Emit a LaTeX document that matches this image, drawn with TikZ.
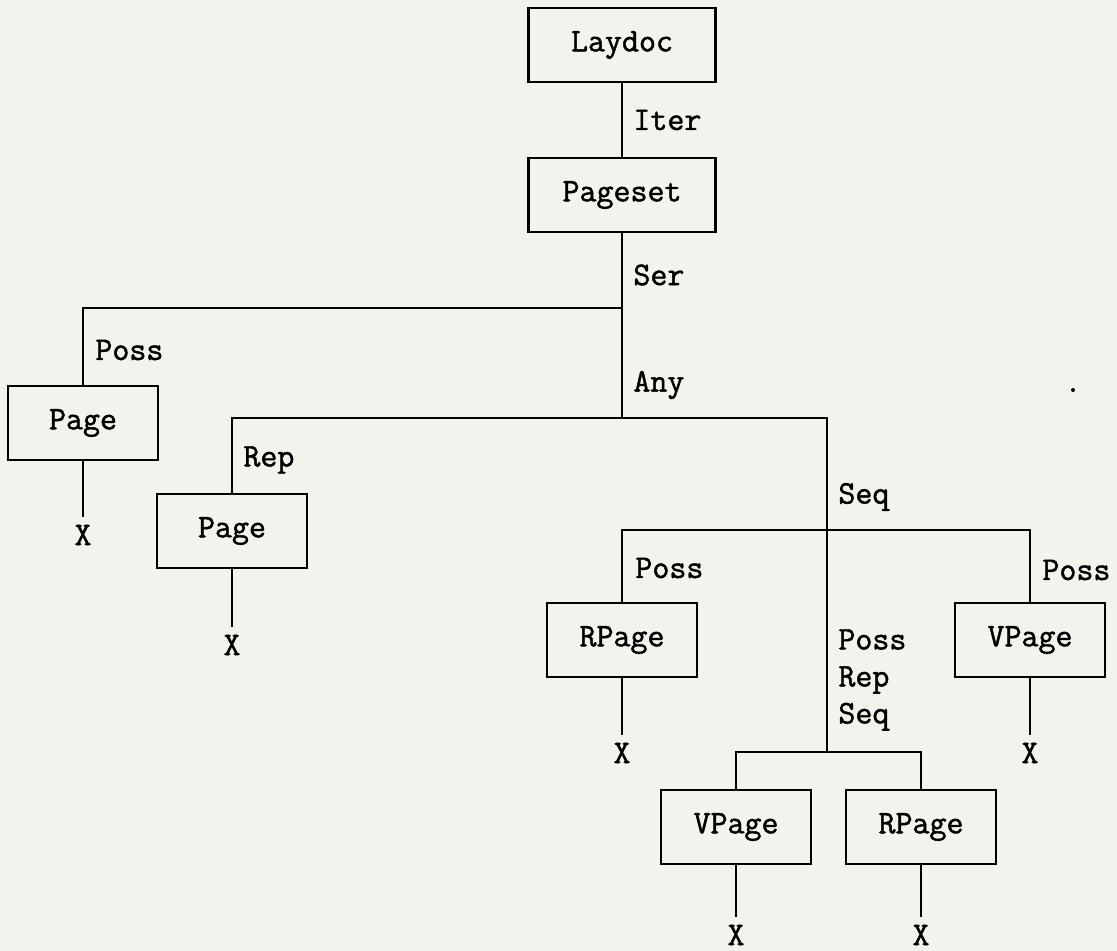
\documentclass[tikz,border=0pt]{standalone}
\usepackage{fontspec}
\newfontfamily\tw{Latin Modern Mono}[FakeBold=1.4]
\definecolor{paper}{RGB}{243,242,237}
\begin{document}
\begin{tikzpicture}[x=0.5pt,y=-0.5pt,
  txt/.style={font=\tw\fontsize{16.5}{18.5}\selectfont},
  box/.style={txt, draw, line width=1.4pt, minimum width=75pt, minimum height=37pt, inner sep=0pt},
  widebox/.style={box, minimum width=93.5pt},
  lab/.style={txt, anchor=west, inner sep=0pt},
  leaf/.style={txt, inner sep=4pt},
  conn/.style={line width=1.3pt}]
\fill[paper] (0,0) rectangle (1117,951);
\useasboundingbox (0,0) rectangle (1117,951);

% nodes
\node[widebox] (laydoc) at (622,45) {Laydoc};
\node[widebox] (pageset) at (622,195) {Pageset};
\node[box] (page1) at (83,423) {Page};
\node[box] (page2) at (232,531) {Page};
\node[box] (rpage1) at (622,640) {RPage};
\node[box] (vpage1) at (1030,640) {VPage};
\node[box] (vpage2) at (736,827) {VPage};
\node[box] (rpage2) at (921,827) {RPage};

\node[leaf] (x1) at (83,535) {X};
\node[leaf] (x2) at (232,645) {X};
\node[leaf] (x3) at (622,753) {X};
\node[leaf] (x4) at (1030,753) {X};
\node[leaf] (x5) at (736,935) {X};
\node[leaf] (x6) at (921,935) {X};

% junction coordinates
\coordinate (serj) at (622,308);
\coordinate (anyj) at (622,418);
\coordinate (seqj) at (827,530);
\coordinate (prsj) at (827,752);

% connectors
\draw[conn] (laydoc.south) -- (pageset.north);
\draw[conn] (pageset.south) -- (serj) -- (anyj);
\draw[conn] (serj) -| (page1.north);
\draw[conn] (anyj) -| (page2.north);
\draw[conn] (anyj) -| (seqj);
\draw[conn] (seqj) -| (rpage1.north);
\draw[conn] (seqj) -| (vpage1.north);
\draw[conn] (seqj) -- (prsj);
\draw[conn] (prsj) -| (vpage2.north);
\draw[conn] (prsj) -| (rpage2.north);
\draw[conn] (page1.south) -- (x1.north);
\draw[conn] (page2.south) -- (x2.north);
\draw[conn] (rpage1.south) -- (x3.north);
\draw[conn] (vpage1.south) -- (x4.north);
\draw[conn] (vpage2.south) -- (x5.north);
\draw[conn] (rpage2.south) -- (x6.north);

% labels
\node[lab] (liter) at (633,120) {Iter};
\node[lab] (lser) at (633,275) {Ser};
\node[lab] (lposs1) at (95,350) {Poss};
\node[lab] (lany) at (633,385) {Any};
\node[lab] (lrep) at (243,460) {Rep};
\node[lab] (lseq) at (838,497) {Seq};
\node[lab] (lposs2) at (635,568) {Poss};
\node[lab] (lposs3) at (1042,570) {Poss};
\node[lab, align=left] (lprs) at (838,680) {Poss\\Rep\\Seq};

% stray speck
\fill (1073,390) circle (2);
\end{tikzpicture}
\end{document}
